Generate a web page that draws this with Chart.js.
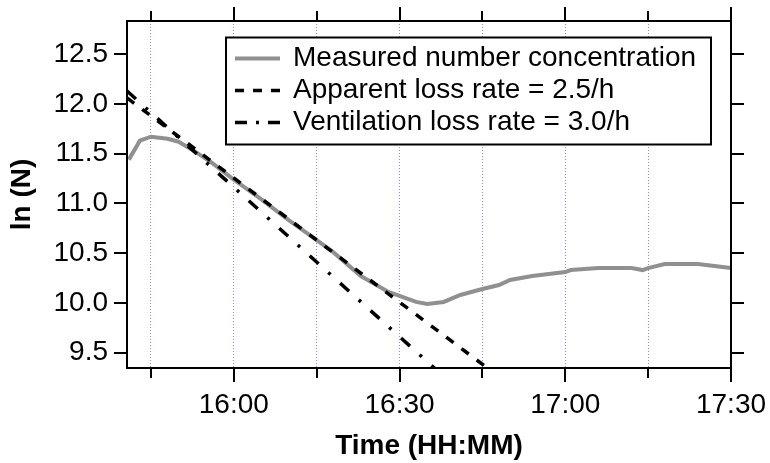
<!DOCTYPE html>
<html>
<head>
<meta charset="utf-8">
<script src="https://cdn.jsdelivr.net/npm/chart.js@4"></script>
<style>
    html, body { margin: 0; padding: 0; background: #ffffff; }
    #wrap { width: 770px; height: 463px; }
</style>
</head>
<body>
<div id="wrap"><canvas id="chart"></canvas></div>
<script>
const TIME_MIN = '15:40:40';
const TIME_MAX = '17:30';
const LN_MIN = 9.346;
const LN_MAX = 12.833;

const X_TICKS = ['15:45', '16:00', '16:15', '16:30', '16:45', '17:00', '17:15', '17:30'];
const X_LABELED = ['16:00', '16:30', '17:00', '17:30'];
const Y_TICKS = [9.5, 10.0, 10.5, 11.0, 11.5, 12.0, 12.5];

const MEASURED_TIMES = [
    '15:41', '15:43', '15:45', '15:48', '15:50', '15:53', '15:56', '16:00',
    '16:05', '16:10', '16:14', '16:18', '16:23', '16:28', '16:30', '16:33',
    '16:35', '16:38', '16:41', '16:45', '16:48', '16:50', '16:54', '17:00',
    '17:01', '17:06', '17:12', '17:13', '17:14', '17:15', '17:18', '17:24',
    '17:27', '17:30'
];
const MEASURED_LN = [
    11.44, 11.63, 11.67, 11.65, 11.62, 11.52, 11.41, 11.24,
    11.04, 10.83, 10.67, 10.51, 10.27, 10.11, 10.07, 10.01,
    9.99, 10.01, 10.08, 10.14, 10.18, 10.23, 10.27, 10.31,
    10.33, 10.35, 10.35, 10.34, 10.33, 10.35, 10.39, 10.39,
    10.37, 10.35
];

const APPARENT_TIMES = ['15:40:40', '16:47'];
const APPARENT_LN = [12.06, 9.30];

const VENTILATION_TIMES = ['15:40:40', '16:37'];
const VENTILATION_LN = [12.13, 9.31];

const FONT_FAMILY = "'Liberation Sans', Arial, sans-serif";

function toMinutes(hhmm) {
    const [h, m, s] = hhmm.split(':').map(Number);
    return h * 60 + m + (s || 0) / 60;
}

function formatHHMM(minutes) {
    const h = Math.floor(minutes / 60);
    const m = Math.round(minutes - h * 60);
    return `${h}:${String(m).padStart(2, '0')}`;
}

function toPoints(times, values) {
    return times.map((t, i) => ({ x: toMinutes(t), y: values[i] }));
}

// frame round the plot plus tick marks on all four sides
const frameAndTicks = {
    id: 'frameAndTicks',
    afterDatasetsDraw(chart) {
        const { ctx, chartArea: a, scales: { x, y } } = chart;
        ctx.save();
        ctx.strokeStyle = '#000000';
        ctx.lineWidth = 2;
        ctx.strokeRect(a.left, a.top, a.right - a.left, a.bottom - a.top);
        ctx.beginPath();
        X_TICKS.forEach(t => {
            const px = Math.round(x.getPixelForValue(toMinutes(t)));
            const len = X_LABELED.includes(t) ? 14 : 10;
            ctx.moveTo(px, a.top);
            ctx.lineTo(px, a.top - len);
            ctx.moveTo(px, a.bottom);
            ctx.lineTo(px, a.bottom + len);
        });
        Y_TICKS.forEach(v => {
            const py = Math.round(y.getPixelForValue(v));
            ctx.moveTo(a.left, py);
            ctx.lineTo(a.left - 13, py);
            ctx.moveTo(a.right, py);
            ctx.lineTo(a.right + 13, py);
        });
        ctx.stroke();
        ctx.restore();
    }
};

// boxed legend inside the plot, top right
const boxedLegend = {
    id: 'boxedLegend',
    afterDraw(chart) {
        const { ctx, chartArea: a } = chart;
        const left = a.left + 99;
        const top = a.top + 16.5;
        const width = 485;
        const height = 107;
        ctx.save();
        ctx.fillStyle = '#ffffff';
        ctx.fillRect(left, top, width, height);
        ctx.strokeStyle = '#000000';
        ctx.lineWidth = 2;
        ctx.strokeRect(left, top, width, height);
        ctx.font = `28px ${FONT_FAMILY}`;
        ctx.textBaseline = 'middle';
        ctx.textAlign = 'left';
        chart.data.datasets.forEach((ds, i) => {
            const rowY = top + 21 + i * 32;
            ctx.beginPath();
            ctx.strokeStyle = ds.borderColor;
            ctx.lineWidth = ds.borderWidth;
            ctx.setLineDash(ds.legendDash || []);
            ctx.moveTo(left + 9, rowY);
            ctx.lineTo(left + 54, rowY);
            ctx.stroke();
            ctx.setLineDash([]);
            ctx.fillStyle = '#000000';
            ctx.fillText(ds.label, left + 67, rowY);
        });
        ctx.restore();
    }
};

new Chart(document.getElementById('chart'), {
    type: 'line',
    data: {
        datasets: [
            {
                label: 'Measured number concentration',
                data: toPoints(MEASURED_TIMES, MEASURED_LN),
                borderColor: '#909090',
                borderWidth: 4,
                order: 3
            },
            {
                label: 'Apparent loss rate = 2.5/h',
                data: toPoints(APPARENT_TIMES, APPARENT_LN),
                borderColor: '#000000',
                borderWidth: 3.5,
                borderDash: [9, 10],
                legendDash: [9, 9],
                order: 2
            },
            {
                label: 'Ventilation loss rate = 3.0/h',
                data: toPoints(VENTILATION_TIMES, VENTILATION_LN),
                borderColor: '#000000',
                borderWidth: 3.5,
                borderDash: [12, 13, 3, 13],
                legendDash: [12, 9, 3, 9],
                order: 1
            }
        ]
    },
    options: {
        responsive: true,
        maintainAspectRatio: false,
        animation: false,
        devicePixelRatio: 1,
        layout: { padding: { left: 1, right: 39, top: 21, bottom: 0 } },
        elements: {
            point: { radius: 0 },
            line: { tension: 0, fill: false }
        },
        scales: {
            x: {
                type: 'linear',
                min: toMinutes(TIME_MIN),
                max: toMinutes(TIME_MAX),
                afterBuildTicks(scale) {
                    scale.ticks = X_TICKS.map(t => ({ value: toMinutes(t) }));
                },
                afterFit(scale) {
                    scale.height = 95;
                    scale.paddingLeft = 0;
                    scale.paddingRight = 0;
                },
                grid: {
                    color: '#8a8aff',
                    lineWidth: 1,
                    drawTicks: false
                },
                border: { display: false, dash: [1, 2] },
                ticks: {
                    autoSkip: false,
                    maxRotation: 0,
                    padding: 20,
                    color: '#000000',
                    font: { family: FONT_FAMILY, size: 28 },
                    callback(value) {
                        const label = formatHHMM(value);
                        return X_LABELED.includes(label) ? label : '';
                    }
                },
                title: {
                    display: true,
                    text: 'Time (HH:MM)',
                    color: '#000000',
                    padding: { top: 0, bottom: 0 },
                    font: { family: FONT_FAMILY, size: 28, weight: 'bold' }
                }
            },
            y: {
                type: 'linear',
                min: LN_MIN,
                max: LN_MAX,
                afterBuildTicks(scale) {
                    scale.ticks = Y_TICKS.map(v => ({ value: v }));
                },
                afterFit(scale) {
                    scale.width = 126;
                    scale.paddingTop = 0;
                    scale.paddingBottom = 0;
                },
                grid: { display: false, drawTicks: false },
                border: { display: false },
                ticks: {
                    padding: 19,
                    color: '#000000',
                    font: { family: FONT_FAMILY, size: 28 },
                    callback(value) {
                        return Number(value).toFixed(1);
                    }
                },
                title: {
                    display: true,
                    text: 'ln (N)',
                    color: '#000000',
                    padding: { top: 4, bottom: 0 },
                    font: { family: FONT_FAMILY, size: 28, weight: 'bold' }
                }
            }
        },
        plugins: {
            legend: { display: false },
            tooltip: { enabled: false }
        }
    },
    plugins: [frameAndTicks, boxedLegend]
});
</script>
</body>
</html>
